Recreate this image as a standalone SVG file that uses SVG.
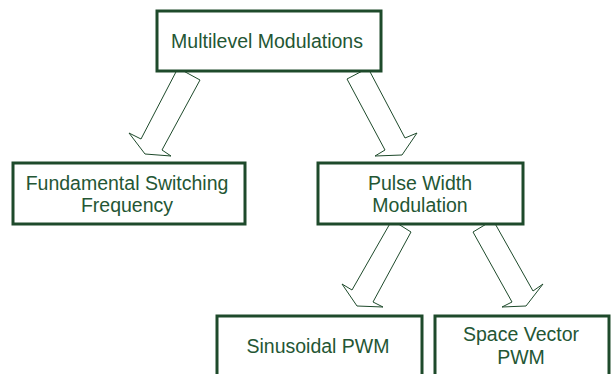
<svg xmlns="http://www.w3.org/2000/svg" width="611" height="374" viewBox="0 0 611 374">
<style>
.box{fill:#fff;stroke:#1e4a2b;stroke-width:3}
.arr{fill:#fff;stroke:#1e4a2b;stroke-width:1;stroke-linejoin:miter}
.t{font-family:"Liberation Sans",Arial,sans-serif;font-size:19.5px;fill:#245634;text-anchor:middle}
</style>
<rect width="611" height="374" fill="#fff"/>
<g id="connectors">
<polygon class="arr" points="178,68 141,139 129,133 145,154 171,156 162,150 200,80"/>
<polygon class="arr" points="368,68 405,138 417,133 402,155 375,156 385,150 347,79"/>
<polygon class="arr" points="392,220 352,290 342,284 357,306 383,307 373,302 411,232"/>
<polygon class="arr" points="493,220 533,291 543,284 526,306 502,307 512,302 473,232"/>
</g>
<g id="n1">
<rect class="box" x="157" y="11" width="224" height="60"/>
<text class="t" x="267" y="48">Multilevel Modulations</text>
</g>
<g id="n2">
<rect class="box" x="13" y="163" width="232" height="61"/>
<text class="t" x="127" y="190">Fundamental Switching</text>
<text class="t" x="127" y="212">Frequency</text>
</g>
<g id="n3">
<rect class="box" x="318" y="163" width="205" height="61"/>
<text class="t" x="420" y="190">Pulse Width</text>
<text class="t" x="420" y="212">Modulation</text>
</g>
<g id="n4">
<rect class="box" x="217" y="316" width="205" height="70"/>
<text class="t" x="318" y="353">Sinusoidal PWM</text>
</g>
<g id="n5">
<rect class="box" x="435" y="316" width="174" height="70"/>
<text class="t" x="521" y="341">Space Vector</text>
<text class="t" x="521" y="364">PWM</text>
</g>
</svg>
